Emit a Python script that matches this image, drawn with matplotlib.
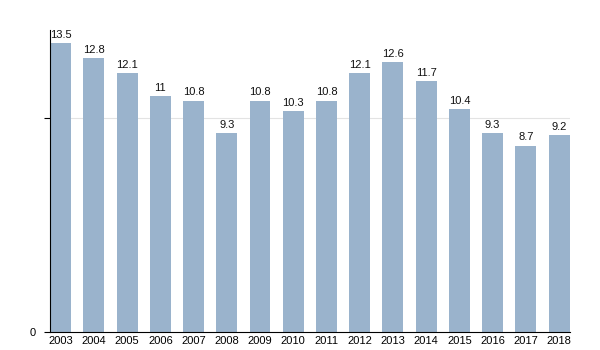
import matplotlib
matplotlib.use("Agg")
import matplotlib.pyplot as plt

years = ["2003", "2004", "2005", "2006", "2007", "2008", "2009", "2010",
         "2011", "2012", "2013", "2014", "2015", "2016", "2017", "2018"]
values = [13.5, 12.8, 12.1, 11, 10.8, 9.3, 10.8, 10.3, 10.8, 12.1, 12.6, 11.7,
          10.4, 9.3, 8.7, 9.2]
labels = ["13.5", "12.8", "12.1", "11", "10.8", "9.3", "10.8", "10.3", "10.8",
          "12.1", "12.6", "11.7", "10.4", "9.3", "8.7", "9.2"]

plt.rcParams['font.family'] = ['Liberation Sans', 'DejaVu Sans']

fig = plt.figure(figsize=(6, 3.5), dpi=100)
ax = fig.add_axes([50/600, 18/350, 520/600, 302/350])

x = list(range(len(years)))
ax.axhline(10, color="#e3e3e3", lw=0.8, zorder=0)
ax.bar(x, values, width=0.63, color="#9ab3cc", zorder=2)
for xi, v, lab in zip(x, values, labels):
    ax.text(xi, v + 0.15, lab, ha="center", va="bottom", fontsize=8, color="#111111")

ax.set_xlim(-0.32, 15.33)
ax.set_ylim(0, 14.1)
ax.set_xticks(x)
ax.set_xticklabels(years, fontsize=8)
ax.set_yticks([0, 10])
ax.set_yticklabels(["0", ""], fontsize=8)
ax.tick_params(axis="x", length=0, pad=3)
ax.tick_params(axis="y", length=4, width=0.8, pad=6)
for s in ["top", "right"]:
    ax.spines[s].set_visible(False)
ax.spines["left"].set_linewidth(0.8)
ax.spines["bottom"].set_linewidth(0.8)

fig.savefig("out.png", dpi=100)
